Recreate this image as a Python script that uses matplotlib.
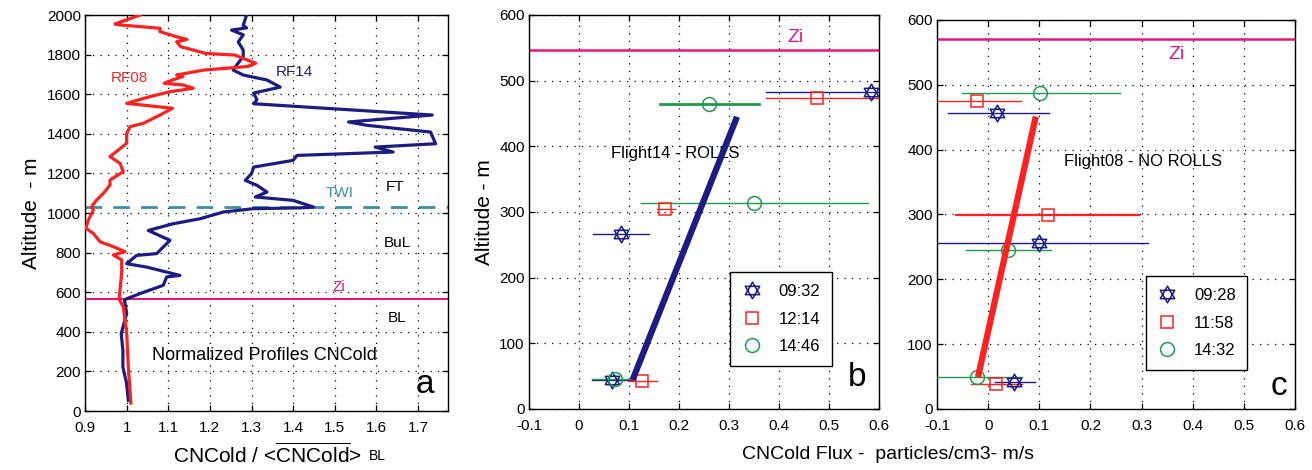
#!/usr/bin/env python3
# Normalized CNCold profiles (a) and CNCold flux profiles for RF14 (b) and RF08 (c)

import matplotlib
matplotlib.use("Agg")
import matplotlib.pyplot as plt
from matplotlib.path import Path
from matplotlib.ticker import FormatStrFormatter

plt.rcParams['font.family'] = ['Liberation Sans', 'DejaVu Sans']
plt.rcParams['mathtext.fontset'] = 'custom'
plt.rcParams['mathtext.rm'] = 'Liberation Sans'

# ---- panel a: normalized profiles (value, altitude m) ----
rf08_x = [1.032, 0.972, 0.984, 1.08, 1.08, 1.12, 1.145, 1.12, 1.13, 1.19, 1.26, 1.31,
          1.29, 1.185, 1.12, 1.135, 1.11, 1.09, 1.135, 1.16, 1.105, 1.056, 1.0, 1.04,
          1.11, 1.08, 1.04, 1.008, 1.0, 1.0, 0.99, 0.96, 0.984, 0.992, 0.96, 0.96,
          0.944, 0.928, 0.916, 0.92, 0.908, 0.902, 0.92, 0.936, 0.968, 0.996, 0.968,
          0.988, 0.988, 0.984, 0.982, 0.992, 1.0, 1.004, 1.008, 1.01]
rf08_z = [2000, 1955, 1950, 1933, 1916, 1890, 1877, 1865, 1840, 1806, 1798, 1756,
          1740, 1722, 1697, 1689, 1672, 1655, 1647, 1630, 1613, 1588, 1554, 1545,
          1529, 1495, 1453, 1436, 1402, 1352, 1335, 1285, 1251, 1209, 1167, 1141,
          1099, 1066, 1032, 1015, 965, 923, 897, 855, 830, 805, 788,
          763, 697, 611, 564, 527, 394, 224, 106, 40]

rf14_x = [1.288, 1.28, 1.288, 1.252, 1.28, 1.268, 1.28, 1.28, 1.264, 1.256, 1.28, 1.337,
          1.369, 1.305, 1.313, 1.305, 1.734, 1.533, 1.577, 1.730, 1.742, 1.597, 1.64,
          1.409, 1.40, 1.305, 1.30, 1.285, 1.313, 1.337, 1.309, 1.40, 1.449, 1.417,
          1.305, 1.232, 1.176, 1.112, 1.052, 1.104, 1.072, 1.024, 1.0, 1.048, 1.128,
          1.096, 1.088, 1.032, 1.0, 0.995, 1.0, 0.987, 0.991, 0.991, 1.0, 1.004]
rf14_z = [2000, 1948, 1935, 1924, 1900, 1864, 1823, 1790, 1747, 1722, 1697, 1672,
          1636, 1606, 1572, 1552, 1495, 1460, 1443, 1409, 1350, 1333, 1308,
          1291, 1266, 1232, 1199, 1165, 1140, 1106, 1081, 1064, 1030, 1026,
          1022, 1005, 971, 946, 912, 862, 795, 786, 744, 727, 685,
          677, 635, 593, 567, 559, 492, 391, 306, 222, 138, 54]

zi_a = 565
twi_a = 1030

# ---- panel b: Flight14 (flux, altitude, errorbar left end, errorbar right end) ----
b_labels = ['09:32', '12:14', '14:46']
b_flux = [[0.583, 0.083, 0.066], [0.476, 0.172, 0.126], [0.260, 0.350, 0.071]]
b_alt = [[482, 266, 44], [474, 305, 42], [465, 314, 46]]
b_lo = [[0.374, 0.027, 0.025], [0.374, 0.155, 0.098], [0.162, 0.124, 0.025]]
b_hi = [[0.65, 0.139, 0.105], [0.65, 0.192, 0.155], [0.359, 0.577, 0.100]]
b_fit_x = [0.107, 0.316]
b_fit_z = [44, 445]
zi_b = 547

# ---- panel c: Flight08 ----
c_labels = ['09:28', '11:58', '14:32']
c_flux = [[0.018, 0.100, 0.051], [-0.022, 0.116, 0.016], [0.102, 0.039, -0.022]]
c_alt = [[457, 256, 42], [475, 299, 38], [487, 245, 50]]
c_lo = [[-0.078, -0.15, 0.013], [-0.15, -0.062, -0.033], [-0.052, -0.044, -0.15]]
c_hi = [[0.118, 0.313, 0.091], [0.064, 0.294, 0.067], [0.258, 0.123, 0.067]]
c_fit_x = [-0.020, 0.093]
c_fit_z = [49, 451]
zi_c = 570

NAVY = '#1c1c82'
RED = '#ff2020'
GREEN = '#1f9a4f'
MAGENTA = '#e8147f'
TEAL = '#3a90a8'

# hexagram marker (two overlapping triangles)
s3 = 3 ** 0.5 / 2
hexagram = Path(
    [(0, 1), (-s3, -0.5), (s3, -0.5), (0, 1),
     (0, -1), (-s3, 0.5), (s3, 0.5), (0, -1)],
    [Path.MOVETO, Path.LINETO, Path.LINETO, Path.CLOSEPOLY,
     Path.MOVETO, Path.LINETO, Path.LINETO, Path.CLOSEPOLY])

MARKERS = [hexagram, 's', 'o']
COLORS = [NAVY, RED, GREEN]
MSIZE = [12, 9, 10]


def style_axes(ax):
    ax.grid(True, color='black', linestyle=(0, (1, 5)), linewidth=0.9)
    ax.tick_params(direction='in', top=True, right=True, length=4,
                   labelsize=11, width=0.9)
    ax.tick_params(axis='x', pad=7)
    ax.tick_params(axis='y', pad=3)
    for sp in ax.spines.values():
        sp.set_linewidth(1.0)


fig = plt.figure(figsize=(13.12, 4.70), dpi=100)

# ---------------- panel a ----------------
ax_a = fig.add_axes([0.0648, 0.1255, 0.2767, 0.8425])
ax_a.plot(rf14_x, rf14_z, color=NAVY, lw=2.3, zorder=3)
ax_a.plot(rf08_x, rf08_z, color=RED, lw=2.3, zorder=4)
ax_a.axhline(zi_a, color=MAGENTA, lw=1.5, zorder=2)
ax_a.axhline(twi_a, color=TEAL, lw=2.0, ls=(0, (6, 4)), zorder=2)
ax_a.set_xlim(0.9, 1.772)
ax_a.set_ylim(0, 2000)
ax_a.set_xticks([0.9, 1.0, 1.1, 1.2, 1.3, 1.4, 1.5, 1.6, 1.7])
ax_a.set_yticks(range(0, 2001, 200))
ax_a.xaxis.set_major_formatter(FormatStrFormatter('%g'))
style_axes(ax_a)
ax_a.set_ylabel('Altitude  - m', fontsize=15, labelpad=4)
ax_a.text(1.007, 1682, 'RF08', color=RED, fontsize=11, ha='center', va='center')
ax_a.text(1.404, 1712, 'RF14', color=NAVY, fontsize=11, ha='center', va='center')
ax_a.text(1.512, 1101, 'TWI', color=TEAL, fontsize=11, ha='center', va='center')
ax_a.text(1.645, 1131, 'FT', fontsize=11, ha='center', va='center')
ax_a.text(1.650, 847, 'BuL', fontsize=11, ha='center', va='center')
ax_a.text(1.510, 626, 'Zi', color=MAGENTA, fontsize=11, ha='center', va='center')
ax_a.text(1.650, 470, 'BL', fontsize=11, ha='center', va='center')
ax_a.text(1.330, 280, 'Normalized Profiles CNCold', fontsize=13, ha='center', va='center')
ax_a.text(1.716, 135, 'a', fontsize=24, ha='center', va='center')

fig.text(0.276, 0.032, r'CNCold / <$\overline{\mathregular{CNCold}}$>',
         fontsize=15, ha='right', va='center')
fig.text(0.281, 0.030, 'BL', fontsize=10, ha='left', va='center')


def flux_panel(ax, labels, flux, alt, lo, hi, fit_x, fit_z, fit_color, zi, thick):
    handles = []
    for i in range(len(labels)):
        for j in range(len(flux[i])):
            lw = thick.get((i, j), 1.0)
            ax.plot([lo[i][j], hi[i][j]], [alt[i][j], alt[i][j]],
                    color=COLORS[i], lw=lw, zorder=3)
        h, = ax.plot(flux[i], alt[i], linestyle='none', marker=MARKERS[i],
                     markersize=MSIZE[i], markerfacecolor='none',
                     markeredgecolor=COLORS[i], markeredgewidth=1.1,
                     label=labels[i], zorder=4)
        handles.append(h)
    ax.plot(fit_x, fit_z, color=fit_color, lw=4.5, solid_capstyle='butt', zorder=5)
    ax.axhline(zi, color=MAGENTA, lw=1.8, zorder=2)
    ax.set_xlim(-0.1, 0.6)
    ax.set_ylim(0, 600)
    ax.set_xticks([-0.1, 0, 0.1, 0.2, 0.3, 0.4, 0.5, 0.6])
    ax.set_yticks(range(0, 601, 100))
    ax.xaxis.set_major_formatter(FormatStrFormatter('%g'))
    style_axes(ax)
    return handles


def add_legend(ax, handles, center):
    leg = ax.legend(handles=handles, loc='center', bbox_to_anchor=center,
                    fontsize=12, frameon=True, fancybox=False, framealpha=1,
                    edgecolor='black', handlelength=1.2, handletextpad=1.0,
                    labelspacing=0.75, borderpad=0.7, borderaxespad=0)
    leg.get_frame().set_linewidth(1.0)


# ---------------- panel b ----------------
ax_b = fig.add_axes([0.4032, 0.1298, 0.2668, 0.8383])
hb = flux_panel(ax_b, b_labels, b_flux, b_alt, b_lo, b_hi, b_fit_x, b_fit_z,
                NAVY, zi_b, {(2, 0): 2.0})
ax_b.set_ylabel('Altitude - m', fontsize=15, labelpad=4)
ax_b.text(0.432, 566, 'Zi', color=MAGENTA, fontsize=14, ha='center', va='center')
ax_b.text(0.063, 389, 'Flight14 - ROLLS', fontsize=12, ha='left', va='center')
ax_b.text(0.556, 48, 'b', fontsize=24, ha='center', va='center')
add_legend(ax_b, hb, (0.72, 0.228))

# ---------------- panel c ----------------
ax_c = fig.add_axes([0.7142, 0.1298, 0.2729, 0.8277])
hc = flux_panel(ax_c, c_labels, c_flux, c_alt, c_lo, c_hi, c_fit_x, c_fit_z,
                RED, zi_c, {(1, 1): 1.6})
ax_c.text(0.369, 546, 'Zi', color=MAGENTA, fontsize=14, ha='center', va='center')
ax_c.text(0.148, 382, 'Flight08 - NO ROLLS', fontsize=12, ha='left', va='center')
ax_c.text(0.568, 34, 'c', fontsize=24, ha='center', va='center')
add_legend(ax_c, hc, (0.725, 0.221))

fig.text(0.677, 0.032, 'CNCold Flux -  particles/cm3- m/s', fontsize=14,
         ha='center', va='center')

fig.savefig('out.png', dpi=100)
